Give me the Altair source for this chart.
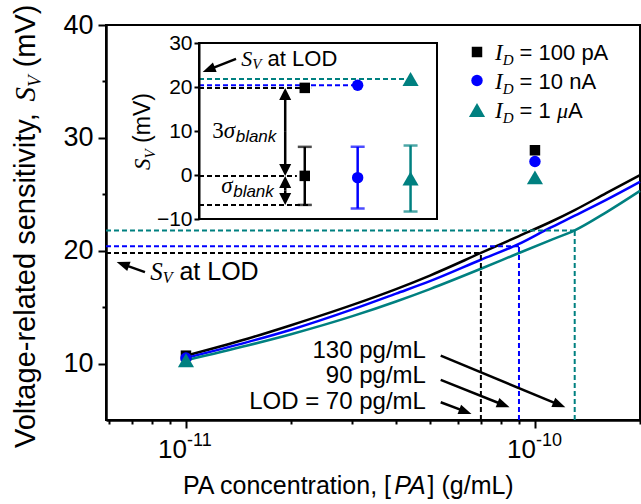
import math
import altair as alt
import pandas as pd

# ---------------- values ----------------
series = ["100 pA", "10 nA", "1 μA"]
series_colors = ["#000000", "#0000ff", "#008080"]
series_shapes = ["square", "circle", "triangle-up"]
series_sizes = [110, 130, 260]

# fitted curves: S_V (mV) against [PA] (g/mL)
fit_conc = [1e-11, 1.5e-11, 2e-11, 3e-11, 4e-11, 5e-11, 7e-11, 9e-11, 1.1e-10, 1.3e-10, 1.6e-10, 2e-10]
fit_sv_100pA = [10.7, 12.2, 13.4, 15.2, 16.6, 17.8, 19.8, 21.3, 22.5, 23.6, 25.1, 26.7]
fit_sv_10nA = [10.5, 11.9, 13.0, 14.8, 16.2, 17.3, 19.2, 20.6, 22.0, 23.1, 24.5, 26.1]
fit_sv_1uA = [10.3, 11.6, 12.6, 14.2, 15.5, 16.6, 18.4, 19.8, 20.9, 21.8, 23.4, 25.3]

# measured points
meas_conc = [1e-11, 1e-10]
meas_sv_100pA = [10.7, 28.9]
meas_sv_10nA = [10.5, 27.9]
meas_sv_1uA = [10.3, 26.5]

# limit of detection
lod_conc = [7e-11, 9e-11, 1.3e-10]
lod_sv = [19.8, 20.4, 21.8]
lod_labels = ["LOD = 70 pg/mL", "90 pg/mL", "130 pg/mL"]

# inset: blank signal statistics
inset_pos = [1, 2, 3]
blank_mean = [-0.2, -0.6, -0.8]
blank_sigma = [6.6, 7.0, 7.5]

# axis ticks
y_major = [10, 20, 30, 40]
y_minor = [15, 25, 35]
x_major = [1e-11, 1e-10]
x_major_exp = ["-11", "-10"]
x_minor = [6e-12, 7e-12, 8e-12, 9e-12, 2e-11, 3e-11, 4e-11, 5e-11, 6e-11,
           7e-11, 8e-11, 9e-11, 2e-10]
inset_y_ticks = [-10, 0, 10, 20, 30]

# ---------------- geometry / styles ----------------
W, H = 534, 395
XDOM = [5.9e-12, 2.0e-10]
YDOM = [5, 40]
IX_D, IX_R = [-1, 3.5], [93, 331]
IY_D, IY_R = [-10, 30], [194, 18]

SANS = "Liberation Sans"
SERIF = "Liberation Serif"

ARIAL_W = {" ": 278, "(": 333, ")": 333, ",": 278, "-": 333, ".": 278, "/": 278,
           "[": 278, "]": 278, "=": 584, "A": 667, "D": 722, "L": 556, "O": 778,
           "P": 667, "V": 667, "a": 556, "b": 556, "c": 500, "d": 556, "e": 556,
           "g": 556, "i": 222, "k": 500, "l": 222, "m": 833, "n": 556, "o": 556,
           "p": 556, "r": 333, "s": 500, "t": 278, "v": 500, "y": 500, "μ": 577}
SERIF_IT_W = {" ": 250, "I": 333, "D": 722, "S": 500, "V": 611, "σ": 520, "3": 500, "μ": 500}


def tw(s, size, serif=False):
    table = SERIF_IT_W if serif else ARIAL_W
    return sum(table.get(c, 556) for c in s) * size / 1000.0


XS = alt.Scale(type="log", domain=XDOM, nice=False)
YS = alt.Scale(domain=YDOM, nice=False, zero=False)
IXS = alt.Scale(domain=IX_D, range=IX_R, nice=False, zero=False)
IYS = alt.Scale(domain=IY_D, range=IY_R, nice=False, zero=False)
COLOR = alt.Color("series:N", scale=alt.Scale(domain=series, range=series_colors), legend=None)

lx0, lx1 = math.log10(XDOM[0]), math.log10(XDOM[1])


def main_px(x, y):
    return (W * (math.log10(x) - lx0) / (lx1 - lx0),
            H * (YDOM[1] - y) / (YDOM[1] - YDOM[0]))


def main_data(px, py):
    return (10 ** (lx0 + px / W * (lx1 - lx0)),
            YDOM[1] - py / H * (YDOM[1] - YDOM[0]))


def inset_px(x, y):
    return (IX_R[0] + (x - IX_D[0]) / (IX_D[1] - IX_D[0]) * (IX_R[1] - IX_R[0]),
            IY_R[0] + (y - IY_D[0]) / (IY_D[1] - IY_D[0]) * (IY_R[1] - IY_R[0]))


def inset_data(px, py):
    return (IX_D[0] + (px - IX_R[0]) / (IX_R[1] - IX_R[0]) * (IX_D[1] - IX_D[0]),
            IY_D[0] + (py - IY_R[0]) / (IY_R[1] - IY_R[0]) * (IY_D[1] - IY_D[0]))


def xy_enc(xs, ys):
    return dict(x=alt.X("x:Q", scale=xs, axis=None), y=alt.Y("y:Q", scale=ys, axis=None))


def marker_style(i):
    return dict(filled=True, opacity=1, strokeWidth=0, shape=series_shapes[i],
                size=series_sizes[i], color=series_colors[i])


def markers(df, enc):
    """One filled marker layer per series so each keeps its own symbol size."""
    out = []
    for i, s in enumerate(series):
        sub = df[df["series"] == s]
        if len(sub):
            out.append(alt.Chart(sub).mark_point(**marker_style(i)).encode(**enc))
    return out


def arrow(tail, tip, to_px, to_data, xs, ys, head_len=13, head_w=10, width=2.5, color="black"):
    p0, p1 = to_px(*tail), to_px(*tip)
    dx, dy = p1[0] - p0[0], p1[1] - p0[1]
    L = math.hypot(dx, dy)
    ux, uy = dx / L, dy / L
    angle = math.degrees(math.atan2(ux, -uy)) % 360
    end = to_data(p1[0] - ux * head_len * 0.7, p1[1] - uy * head_len * 0.7)
    shaft = alt.Chart(pd.DataFrame({"x": [tail[0]], "y": [tail[1]], "x2": [end[0]], "y2": [end[1]]})
                      ).mark_rule(strokeWidth=width, color=color).encode(
        x2="x2:Q", y2="y2:Q", **xy_enc(xs, ys))
    hw = head_w / head_len
    head = alt.Chart(pd.DataFrame({"x": [tip[0]], "y": [tip[1]]})).mark_point(
        shape=f"M0,0L{hw:.3f},2L{-hw:.3f},2Z", size=head_len ** 2, angle=angle,
        filled=True, opacity=1, strokeWidth=0, color=color).encode(**xy_enc(xs, ys))
    return [shaft, head]


def _lead(t, s, sf):
    """Leading blanks are dropped by SVG text, so turn them into an offset."""
    stripped = t.lstrip(" ")
    return stripped, tw(" " * (len(t) - len(stripped)), s, sf)


def rich(x, y, pieces, xs, ys, align="left"):
    """Inline run of text pieces: (text, size, serif, italic, dy)."""
    total = sum(tw(t, s, sf) for t, s, sf, it, dy in pieces)
    cur = -total if align == "right" else 0.0
    out = []
    df = pd.DataFrame({"x": [x], "y": [y]})
    for t, s, sf, it, dy in pieces:
        txt, lead = _lead(t, s, sf)
        out.append(alt.Chart(df).mark_text(
            text=txt, align="left", baseline="middle", dx=cur + lead, dy=dy,
            font=SERIF if sf else SANS, fontSize=s, fontStyle="italic" if it else "normal",
            color="black").encode(**xy_enc(xs, ys)))
        cur += tw(t, s, sf)
    return out


def rich_px(px, py, pieces, angle=0):
    """Text pieces placed in pixels; for angle 270 the run goes upward."""
    out = []
    cur = 0.0
    for t, s, sf, it, dy in pieces:
        txt, lead = _lead(t, s, sf)
        if angle == 270:
            x, y = px + dy, py - cur - lead
        else:
            x, y = px + cur + lead, py + dy
        out.append(alt.Chart(pd.DataFrame({"k": [0]})).mark_text(
            text=txt, align="left", baseline="alphabetic", angle=angle,
            font=SERIF if sf else SANS, fontSize=s, fontStyle="italic" if it else "normal",
            color="black").encode(x=alt.value(x), y=alt.value(y)))
        cur += tw(t, s, sf)
    return out


# ---------------- main panel ----------------
n = len(fit_conc)
fit_df = pd.DataFrame({
    "x": fit_conc * 3,
    "y": fit_sv_100pA + fit_sv_10nA + fit_sv_1uA,
    "series": [s for s in series for _ in range(n)],
})
meas_df = pd.DataFrame({
    "x": meas_conc * 3,
    "y": meas_sv_100pA + meas_sv_10nA + meas_sv_1uA,
    "series": [s for s in series for _ in meas_conc],
})
lod_df = pd.DataFrame({"series": series, "c": lod_conc, "sv": lod_sv,
                       "x0": [XDOM[0]] * 3, "y0": [YDOM[0]] * 3})

major_test = "abs(log(datum.value)/LN10 - round(log(datum.value)/LN10)) < 0.001"
x_axis = alt.Axis(values=sorted(x_major + x_minor), labels=False, title=None, grid=False,
                  tickSize={"condition": {"test": major_test, "value": 8}, "value": 4},
                  tickWidth=2, domainWidth=2.5)
y_axis = alt.Axis(values=sorted(y_major + y_minor), title=None, grid=False,
                  labelExpr="datum.value % 10 === 0 ? datum.label : ''",
                  tickSize={"condition": {"test": "datum.value % 10 === 0", "value": 8}, "value": 4},
                  tickWidth=2, domainWidth=2.5, labelFontSize=27, labelPadding=5)

lod_h = alt.Chart(lod_df).mark_rule(strokeDash=[5, 3], strokeWidth=2).encode(
    x=alt.X("x0:Q", scale=XS, axis=None), x2="c:Q",
    y=alt.Y("sv:Q", scale=YS, axis=None), color=COLOR)
lod_v = alt.Chart(lod_df).mark_rule(strokeDash=[5, 3], strokeWidth=2).encode(
    x=alt.X("c:Q", scale=XS, axis=None),
    y=alt.Y("y0:Q", scale=YS, axis=None), y2="sv:Q", color=COLOR)
fit_lines = alt.Chart(fit_df).mark_line(strokeWidth=2.5, interpolate="monotone").encode(
    x=alt.X("x:Q", scale=XS, axis=x_axis),
    y=alt.Y("y:Q", scale=YS, axis=y_axis),
    color=COLOR, detail="series:N")

layers = [fit_lines, lod_h, lod_v] + markers(meas_df, xy_enc(XS, YS))

# tick labels 10^n
tick_df = pd.DataFrame({"x": x_major, "e": x_major_exp})
layers.append(alt.Chart(tick_df).mark_text(
    text="10", align="right", baseline="alphabetic", dx=1, font=SANS, fontSize=26, color="black"
).encode(x=alt.X("x:Q", scale=XS, axis=None), y=alt.value(H + 38)))
layers.append(alt.Chart(tick_df).mark_text(
    align="left", baseline="alphabetic", dx=1, font=SANS, fontSize=18, color="black"
).encode(x=alt.X("x:Q", scale=XS, axis=None), y=alt.value(H + 26), text="e:N"))

# axis titles
layers += rich_px(77, H + 74, [("PA concentration, [", 25, False, False, 0),
                               ("PA", 25, False, True, 0),
                               ("] (g/mL)", 25, False, False, 0)])
layers += rich_px(-71, H + 28, [("Voltage-related sensitivity, ", 29, False, False, 0),
                                ("S", 29, True, True, 0),
                                ("V", 19, True, True, 6),
                                (" (mV)", 29, False, False, 0)], angle=270)

# S_V at LOD pointer
layers += rich(7.9e-12, 18.1, [("S", 25, True, True, 0), ("V", 16, True, True, 6),
                               (" at LOD", 25, False, False, 0)], XS, YS)
layers += arrow((7.63e-12, 18.1), (6.33e-12, 19.0), main_px, main_data, XS, YS)

# LOD labels with arrows towards the dashed markers
lab_y = [6.57, 8.94, 11.15]
tail_y = [6.57, 8.55, 10.71]
tip_y = [5.54, 6.12, 6.12]
for i in range(3):
    layers += rich(4.87e-11, lab_y[i], [(lod_labels[i], 24, False, False, 0)], XS, YS, align="right")
    layers += arrow((5.37e-11, tail_y[i]), (lod_conc[i] * 0.94, tip_y[i]),
                    main_px, main_data, XS, YS)

# legend
leg_rows = [27, 55.5, 85]
leg_tail = [" = 100 pA", " = 10 nA", None]
for i, s in enumerate(series):
    layers.append(alt.Chart(pd.DataFrame({"series": [s]})).mark_point(**marker_style(i)).encode(
        x=alt.value(371), y=alt.value(leg_rows[i])))
    pieces = [("I", 23, True, True, 0), ("D", 15, True, True, 5)]
    if leg_tail[i] is not None:
        pieces.append((leg_tail[i], 22, False, False, 0))
    else:
        pieces += [(" = 1 ", 22, False, False, 0), ("μ", 22, True, True, 0), ("A", 22, False, False, 0)]
    layers += rich_px(389, leg_rows[i] + 8, pieces)

# ---------------- inset ----------------
frame = alt.Chart(pd.DataFrame({"x": [IX_D[0]], "x2": [IX_D[1]], "y": [IY_D[0]], "y2": [IY_D[1]]})
                  ).mark_rect(fill="white", stroke="black", strokeWidth=2).encode(
    x=alt.X("x:Q", scale=IXS, axis=None), x2="x2:Q",
    y=alt.Y("y:Q", scale=IYS, axis=alt.Axis(
        orient="left", offset=-IX_R[0], values=inset_y_ticks, title=None, grid=False,
        tickSize=5, tickWidth=2, domainWidth=2, labelFontSize=21, labelPadding=2, zindex=1)),
    y2="y2:Q")

layers.append(frame)

dash_df = pd.DataFrame({
    "x": [IX_D[0]] * 5,
    "x2": [1.12, 2.0, 3.0, 0.85, 1.12],
    "y": [lod_sv[0], lod_sv[1], lod_sv[2], blank_mean[0], blank_mean[0] - blank_sigma[0]],
    "series": [series[0], series[1], series[2], series[0], series[0]],
})
layers.append(alt.Chart(dash_df).mark_rule(strokeDash=[5, 3], strokeWidth=2).encode(
    x=alt.X("x:Q", scale=IXS, axis=None), x2="x2:Q",
    y=alt.Y("y:Q", scale=IYS, axis=None), color=COLOR))

err_df = pd.DataFrame({
    "x": inset_pos,
    "lo": [m - s for m, s in zip(blank_mean, blank_sigma)],
    "hi": [m + s for m, s in zip(blank_mean, blank_sigma)],
    "series": series,
})
layers.append(alt.Chart(err_df).mark_rule(strokeWidth=2.5).encode(
    x=alt.X("x:Q", scale=IXS, axis=None), y=alt.Y("lo:Q", scale=IYS, axis=None),
    y2="hi:Q", color=COLOR))
for col in ["lo", "hi"]:
    layers.append(alt.Chart(err_df).mark_tick(orient="horizontal", size=14, thickness=2.5).encode(
        x=alt.X("x:Q", scale=IXS, axis=None), y=alt.Y(f"{col}:Q", scale=IYS, axis=None),
        color=COLOR))

ipts = pd.DataFrame({"x": inset_pos * 2, "y": blank_mean + lod_sv, "series": series * 2})
layers += markers(ipts, xy_enc(IXS, IYS))

# 3 sigma and sigma spans
ax = 0.63
lo0 = blank_mean[0] - blank_sigma[0]
mid0 = (lod_sv[0] + blank_mean[0]) / 2
mid1 = (blank_mean[0] + lo0) / 2
for a, b in [(mid0, lod_sv[0]), (mid0, blank_mean[0]), (mid1, blank_mean[0]), (mid1, lo0)]:
    layers += arrow((ax, a), (ax, b), inset_px, inset_data, IXS, IYS, head_len=12, head_w=12)

layers += rich(-0.75, 10.1, [("3", 23, True, False, 0), ("σ", 23, True, True, 0),
                             ("blank", 17, False, True, 6)], IXS, IYS)
layers += rich(-0.58, -2.5, [("σ", 23, True, True, 0), ("blank", 17, False, True, 6)], IXS, IYS)

layers += rich(-0.2, 26.3, [("S", 22, True, True, 0), ("V", 15, True, True, 5),
                            (" at LOD", 22, False, False, 0)], IXS, IYS)
layers += arrow((-0.3, 26.4), (-0.93, 23.4), inset_px, inset_data, IXS, IYS)

layers += rich_px(44, 145, [("S", 23, True, True, 0), ("V", 15, True, True, 5),
                            (" (mV)", 23, False, False, 0)], angle=270)

chart = alt.layer(*layers).resolve_scale(x="independent", y="independent").properties(
    width=W, height=H,
    padding={"left": 106, "top": 25, "right": 1, "bottom": 84},
    autosize=alt.AutoSizeParams(type="none"),
).configure_view(stroke="black", strokeWidth=2).configure_axis(
    labelFont=SANS, labelColor="black", domainColor="black", tickColor="black")

chart.save("out.html", embed_options={"renderer": "svg", "actions": False})
